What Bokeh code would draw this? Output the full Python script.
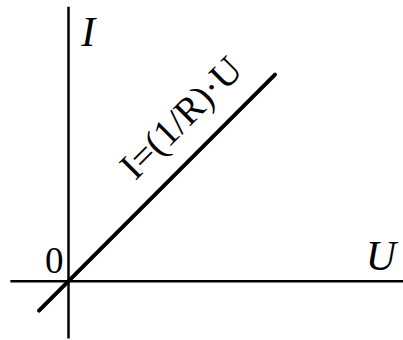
from bokeh.plotting import figure
from bokeh.models import Range1d
from bokeh.core.properties import value
from bokeh.embed import file_html
from bokeh.resources import INLINE
import numpy as np

# Data: linear relation I = U / R
R = 1.0
U_vals = [-1.0, 7.0]
I_vals = [u / R for u in U_vals]

# Axis extents (data units)
u_axis = [-1.97, 11.4]
i_axis = [-1.94, 9.3]

axis_labels = ["U", "I", "0"]
formula = "I=(1/R)·U"

p = figure(width=403, height=340, output_backend="svg", toolbar_location=None,
           x_range=Range1d(-2.305, 11.356), y_range=Range1d(-2.01, 9.515),
           min_border=0)
p.axis.visible = False
p.grid.visible = False
p.outline_line_color = None
p.background_fill_color = "white"

# axes
p.line(u_axis, [0, 0], line_color="black", line_width=2.5)
p.line([0, 0], i_axis, line_color="black", line_width=2.5)

# relation line
p.line(U_vals, I_vals, line_color="black", line_width=4, line_cap="round")

serif = value("Liberation Serif")
p.text(x=[10.08], y=[0.85], text=[axis_labels[0]], text_font=serif,
       text_font_style="italic", text_font_size="42px", text_align="left",
       text_baseline="alphabetic", text_color="black")
p.text(x=[0.43], y=[8.45], text=[axis_labels[1]], text_font=serif,
       text_font_style="italic", text_font_size="42px", text_align="left",
       text_baseline="alphabetic", text_color="black")
p.text(x=[-0.17], y=[0.70], text=[axis_labels[2]], text_font=serif,
       text_font_size="37px", text_align="right",
       text_baseline="alphabetic", text_color="black")
p.text(x=[3.80], y=[5.55], text=[formula], text_font=serif,
       text_font_size="38px", text_align="center", angle=np.pi / 4,
       text_baseline="alphabetic", text_color="black")

open("out.html", "w").write(file_html(p, INLINE))
